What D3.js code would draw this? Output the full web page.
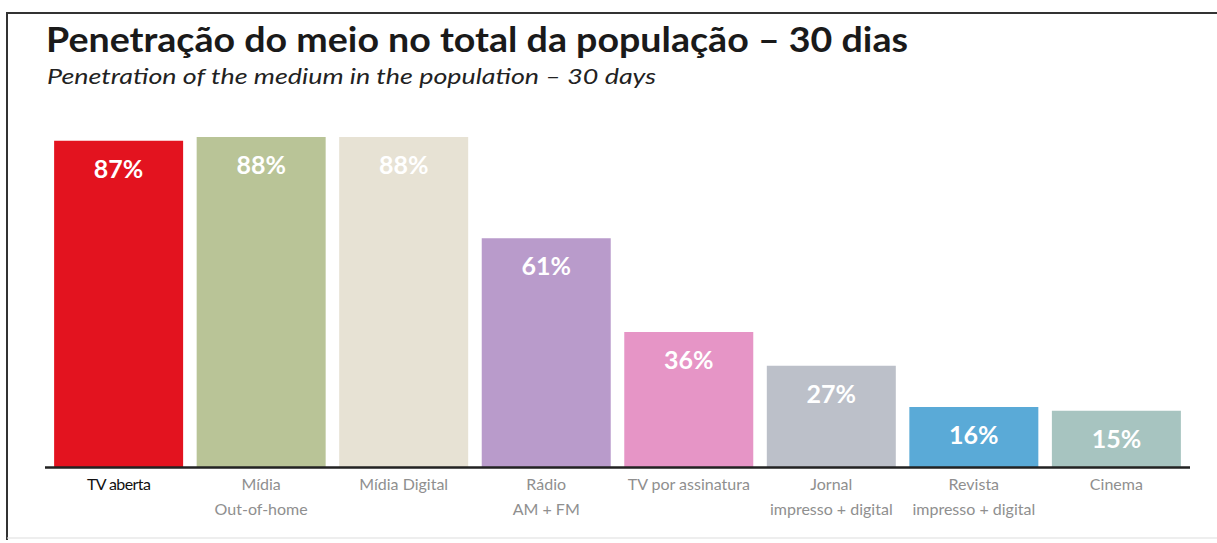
<!DOCTYPE html>
<html><head><meta charset="utf-8">
<script src="https://cdn.jsdelivr.net/npm/d3@7"></script>
<style>body{margin:0;background:#fff}svg{display:block}</style>
</head><body>
<svg id="c" width="1217" height="543"></svg>
<script>
const categories = [["TV aberta"],["Mídia","Out-of-home"],["Mídia Digital"],["Rádio","AM + FM"],["TV por assinatura"],["Jornal","impresso + digital"],["Revista","impresso + digital"],["Cinema"]];
const values = [87, 88, 88, 61, 36, 27, 16, 15];
const colors = ["#e3131f","#b9c497","#e7e2d4","#b99bcb","#e695c6","#bcc0c9","#5aaad7","#a7c4c0"];
const title = "Penetração do meio no total da população – 30 dias";
const subtitle = "Penetration of the medium in the population – 30 days";

const svg = d3.select("#c");
const font = "Lato, 'Open Sans', sans-serif";

// frame
svg.append("path").attr("d","M7,540 V13 H1217").attr("fill","none").attr("stroke","#333").attr("stroke-width",2);
svg.append("line").attr("x1",7).attr("x2",1217).attr("y1",538).attr("y2",538).attr("stroke","#ddd").attr("stroke-width",1);

svg.append("text").attr("x",46).attr("y",52).text(title)
  .attr("font-family",font).attr("font-weight",700).attr("font-size",35).attr("fill","#1a1a1a")
  .attr("textLength",862).attr("lengthAdjust","spacingAndGlyphs");
svg.append("text").attr("x",47).attr("y",84).text(subtitle)
  .attr("font-family",font).attr("font-style","italic").attr("font-size",22).attr("fill","#222")
  .attr("textLength",609).attr("lengthAdjust","spacingAndGlyphs");

const x = d3.scaleBand().domain(d3.range(values.length)).range([47,1188]).paddingInner(0.095).paddingOuter(0.05);
const y = d3.scaleLinear().domain([0,100]).range([467,92]);

svg.selectAll("rect.bar").data(values).join("rect").attr("class","bar")
  .attr("x",(d,i)=>x(i)).attr("width",x.bandwidth())
  .attr("y",d=>y(d)).attr("height",d=>y(0)-y(d)).attr("fill",(d,i)=>colors[i]);

svg.selectAll("text.val").data(values).join("text").attr("class","val")
  .attr("x",(d,i)=>x(i)+x.bandwidth()/2).attr("y",d=>y(d)+37)
  .attr("text-anchor","middle").attr("font-family",font).attr("font-weight",700)
  .attr("font-size",25).attr("fill","#fff").text(d=>d+"%");

const axis = d3.axisBottom(x).tickSize(0).tickFormat("");
const ag = svg.append("g").attr("transform","translate(0,467)").call(axis);
ag.select(".domain").attr("d","M45,0.5H1190").attr("stroke","#222").attr("stroke-width",2.5);

const lab = svg.selectAll("text.cat").data(categories).join("text").attr("class","cat")
  .attr("x",(d,i)=>x(i)+x.bandwidth()/2).attr("y",490)
  .attr("text-anchor","middle").attr("font-family",font).attr("font-size",16)
  .attr("fill",(d,i)=>i===0?"#111":"#8f8f8f").attr("letter-spacing",(d,i)=>i===0?"-0.6":"0");
lab.each(function(d){
  const t=d3.select(this);
  d.forEach((s,k)=>t.append("tspan").attr("x",t.attr("x")).attr("dy",k===0?0:25).text(s));
});
</script>
</body></html>
